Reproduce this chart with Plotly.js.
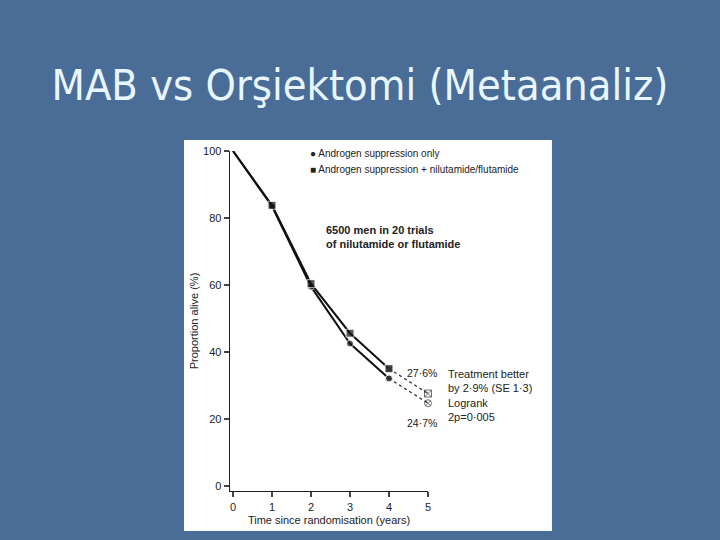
<!DOCTYPE html>
<html>
<head>
<meta charset="utf-8">
<script src="https://cdn.plot.ly/plotly-3.0.1.min.js"></script>
<style>html,body{margin:0;padding:0;background:#4a6d97;}#chart{width:720px;height:540px;}</style>
</head>
<body>
<div id="chart"></div>
<script>
const years = [0, 1, 2, 3, 4];
const suppressionOnly = [100, 83.5, 59.5, 42.5, 32.1];
const suppressionPlusAntiandrogen = [100, 83.8, 60.4, 45.6, 35.0];
const extensionYears = [4, 5];
const suppressionOnlyExt = [32.1, 24.7];
const suppressionPlusAntiandrogenExt = [35.0, 27.6];
const xTicks = [0, 1, 2, 3, 4, 5];
const yTicks = [0, 20, 40, 60, 80, 100];

const fmt = v => v.toFixed(1).replace('.', '·') + '%';
const fam = 'Liberation Sans, Arial, sans-serif';
const txtFont = {family: fam, size: 11, color: '#222'};

const traces = [
  {x: years, y: suppressionOnly, mode: 'lines+markers', name: 'Androgen suppression only',
   line: {color: '#111', width: 2}, marker: {symbol: 'circle', size: [0, 7, 7, 7, 7], color: '#111'}, cliponaxis: false},
  {x: years, y: suppressionPlusAntiandrogen, mode: 'lines+markers', name: 'Androgen suppression + nilutamide/flutamide',
   line: {color: '#111', width: 2}, marker: {symbol: 'square', size: [0, 8, 8, 8, 8], color: '#111'}, cliponaxis: false},
  {x: extensionYears, y: suppressionOnlyExt, mode: 'lines+markers', showlegend: false,
   line: {color: '#333', width: 1.3, dash: 'dot'},
   marker: {symbol: ['circle', 'circle-x-open'], size: [7, 7], color: '#333'}, cliponaxis: false},
  {x: extensionYears, y: suppressionPlusAntiandrogenExt, mode: 'lines+markers', showlegend: false,
   line: {color: '#333', width: 1.3, dash: 'dot'},
   marker: {symbol: ['square', 'square-x-open'], size: [8, 7], color: '#333'}, cliponaxis: false}
];

const layout = {
  width: 720, height: 540,
  paper_bgcolor: '#4a6d97', plot_bgcolor: '#ffffff',
  margin: {l: 230, r: 292, t: 151, b: 49},
  showlegend: false,
  title: {text: 'MAB vs Orşiektomi (Metaanaliz)', x: 0.5, xanchor: 'center', y: 0.842, yanchor: 'middle',
          font: {family: 'DejaVu Sans Condensed, DejaVu Sans, sans-serif', size: 43, color: '#e8f6ff'}},
  xaxis: {range: [-0.077, 5], tickvals: xTicks, ticks: 'outside', ticklen: 5, tickwidth: 1.3,
          showline: true, linecolor: '#222', linewidth: 1.4, showgrid: false, zeroline: false,
          tickfont: txtFont,
          title: {text: 'Time since randomisation (years)', font: txtFont, standoff: 4}},
  yaxis: {range: [-1.5, 100], tickvals: yTicks, ticks: 'outside', ticklen: 5, tickwidth: 1.3,
          showline: true, linecolor: '#222', linewidth: 1.4, showgrid: false, zeroline: false,
          tickfont: txtFont,
          title: {text: 'Proportion alive (%)', font: txtFont, standoff: 2}},
  shapes: [
    {type: 'rect', xref: 'paper', yref: 'paper', x0: -0.2323, x1: 1.626, y0: -0.1176, y1: 1.0324,
     fillcolor: '#ffffff', line: {width: 0}, layer: 'below'}
  ],
  annotations: [
    {xref: 'paper', yref: 'paper', x: 0.392, y: 0.994, xanchor: 'left', yanchor: 'middle', showarrow: false,
     text: '● Androgen suppression only', font: {family: fam, size: 10, color: '#222'}},
    {xref: 'paper', yref: 'paper', x: 0.392, y: 0.947, xanchor: 'left', yanchor: 'middle', showarrow: false,
     text: '■ Androgen suppression + nilutamide/flutamide', font: {family: fam, size: 10, color: '#222'}},
    {xref: 'paper', yref: 'paper', x: 0.475, y: 0.747, xanchor: 'left', yanchor: 'middle', showarrow: false, align: 'left',
     text: '<b>6500 men in 20 trials<br>of nilutamide or flutamide</b>', font: {family: fam, size: 11, color: '#222'}},
    {x: 4.85, y: 33.7, xref: 'x', yref: 'y', showarrow: false,
     text: fmt(suppressionPlusAntiandrogenExt[1]), font: {family: fam, size: 10.5, color: '#222'}},
    {x: 4.85, y: 18.7, xref: 'x', yref: 'y', showarrow: false,
     text: fmt(suppressionOnlyExt[1]), font: {family: fam, size: 10.5, color: '#222'}},
    {xref: 'paper', yref: 'paper', x: 1.091, y: 0.368, xanchor: 'left', yanchor: 'top', showarrow: false, align: 'left',
     text: 'Treatment better<br>by 2·9% (SE 1·3)<br>Logrank<br>2p=0·005', font: {family: fam, size: 11, color: '#222'}}
  ]
};

Plotly.newPlot('chart', traces, layout, {displayModeBar: false, staticPlot: true});
</script>
</body>
</html>
